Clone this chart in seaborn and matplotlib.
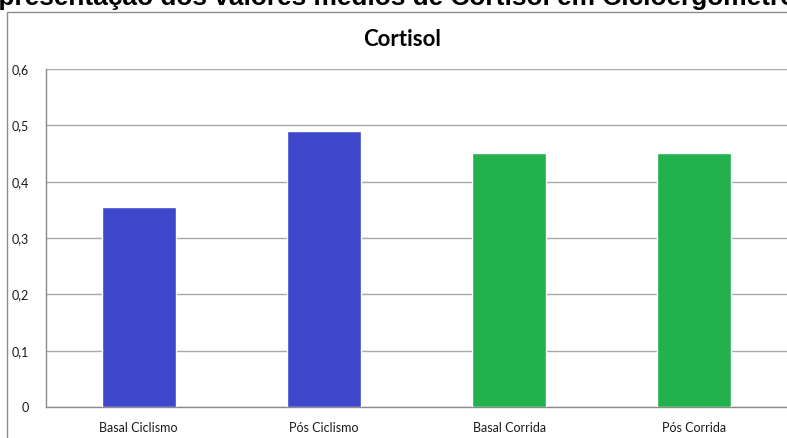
import matplotlib
matplotlib.use("Agg")
import matplotlib.pyplot as plt
import matplotlib.ticker as mticker
from matplotlib.patches import Rectangle
import seaborn as sns
import pandas as pd

categories = ["Basal Ciclismo", "Pós Ciclismo", "Basal Corrida", "Pós Corrida"]
cortisol = [0.355, 0.49, 0.45, 0.45]
groups = ["Ciclismo", "Ciclismo", "Corrida", "Corrida"]
group_colors = {"Ciclismo": "#3F48CC", "Corrida": "#22B14C"}
y_ticks = [0, 0.1, 0.2, 0.3, 0.4, 0.5, 0.6]

df = pd.DataFrame({"categoria": categories, "cortisol": cortisol, "grupo": groups})

sns.set_style("white")
plt.rcParams["font.family"] = ["Lato", "DejaVu Sans"]

W, H = 787, 438
fig = plt.figure(figsize=(W / 100, H / 100), dpi=100)

# chart frame
fig.patches.append(Rectangle((7 / W, -0.1), 1.2, 1 - 12 / H + 0.1,
                             transform=fig.transFigure, fill=False,
                             edgecolor="#8c8c8c", linewidth=1.0, zorder=0))

# caption above the chart
fig.text(-35 / W, 1 - 5 / H, "Representação dos valores médios de Cortisol em Cicloergômetro",
         ha="left", va="baseline", fontsize=18.9, fontweight="bold",
         family=["Liberation Sans", "DejaVu Sans"], color="black")

ax = fig.add_axes([46 / W, 31 / H, 1 - 46 / W, (407 - 69) / H])
sns.barplot(data=df, x="categoria", y="cortisol", hue="grupo", palette=group_colors,
            saturation=1, dodge=False, width=0.4, legend=False, ax=ax, zorder=3)

ax.set_xlim(-0.5, 3.5)
ax.set_ylim(0, 0.6)
ax.set_yticks(y_ticks)
ax.yaxis.set_major_formatter(mticker.FuncFormatter(
    lambda v, _: "0" if v == 0 else f"{v:.1f}".replace(".", ",")))
ax.grid(axis="y", color="#a8a8a8", linewidth=1.0, zorder=0)
ax.set_axisbelow(True)
ax.set_xlabel("")
ax.set_ylabel("")
for side in ["top", "right"]:
    ax.spines[side].set_visible(False)
for side in ["left", "bottom"]:
    ax.spines[side].set_color("#8c8c8c")
    ax.spines[side].set_linewidth(1.0)
ax.tick_params(axis="both", length=0, labelsize=9, colors="#1a1a1a")
ax.tick_params(axis="y", pad=12)
ax.tick_params(axis="x", pad=11)

fig.text(402 / W, 1 - 39 / H, "Cortisol", ha="center", va="center",
         fontsize=16, fontweight="bold", color="black")

fig.savefig("out.png", dpi=100)
